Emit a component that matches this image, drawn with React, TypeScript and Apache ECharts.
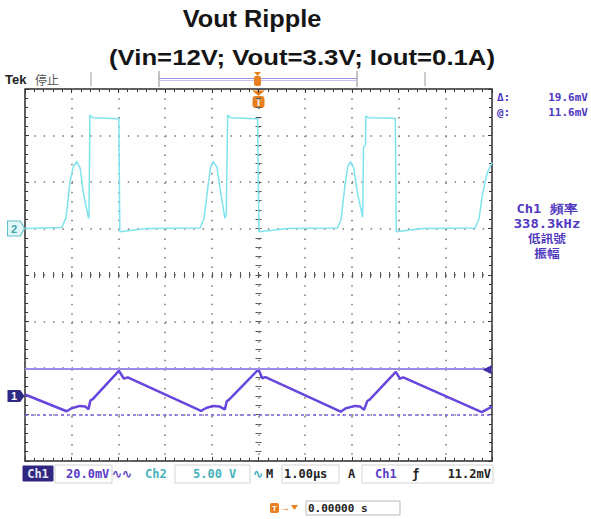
import React, { useEffect, useRef } from 'react';
import * as echarts from 'echarts';

// ---- data ----
// time axis: 1.00 µs/div, 10 divisions, trigger (t = 0) at the centre
const timeRangeUs = [-5, 5];
const verticalDivs = [-4, 4];

// Ch2 (switch node), 5.00 V/div, ground marker 1 div above centre
const ch2Range = [-25, 15];
const ch2TimeUs = [
  -5.0, -4.21, -4.12, -4.04, -3.97, -3.89, -3.82, -3.75, -3.64, -3.63, -3.61, -3.55, -2.99, -2.97, -2.7, -2.4,
  -1.25, -1.17, -1.08, -1.03, -0.97, -0.89, -0.81, -0.72, -0.69, -0.66, -0.6, -0.02, 0.01, 0.3, 0.6,
  1.69, 1.77, 1.85, 1.91, 1.97, 2.04, 2.12, 2.23, 2.25, 2.29, 2.3, 2.36, 2.93, 2.95, 3.2, 3.5,
  4.64, 4.72, 4.8, 4.9, 5.0,
];
const ch2Volts = [
  0.0, 0.1, 1.2, 4.9, 6.6, 7.2, 6.5, 3.8, 1.1, 1.3, 12.2, 11.9, 11.8, -0.35, -0.2, 0.0,
  0.05, 1.0, 4.6, 6.5, 7.2, 6.6, 3.9, 1.1, 1.5, 12.2, 11.9, 11.8, -0.35, -0.2, 0.0,
  0.05, 1.0, 4.6, 6.6, 7.2, 6.5, 3.8, 1.2, 8.8, 9.0, 12.1, 11.9, 11.85, -0.35, -0.2, 0.0,
  0.05, 1.0, 3.8, 6.0, 7.1,
];

// Ch1 (Vout ripple, AC), 20.0 mV/div, ground marker 2.6 div below centre
const ch1Range = [-28, 132];
const ch1TimeUs = [
  -5.0, -4.11, -4.0, -3.82, -3.71, -3.64, -3.6, -3.55, -2.99, -2.88, -2.8,
  -1.23, -1.12, -0.97, -0.83, -0.72, -0.68, -0.63, 0.0, 0.08, 0.15,
  1.76, 1.87, 2.07, 2.18, 2.26, 2.33, 2.38, 2.94, 3.03, 3.1,
  4.78, 5.0,
];
const ch1MilliVolts = [
  0.6, -6.6, -5.3, -4.3, -4.6, -5.7, -2.0, -1.4, 10.8, 7.4, 8.0,
  -6.4, -5.2, -4.3, -4.6, -5.8, -2.3, -1.6, 11.4, 7.6, 8.1,
  -6.8, -5.3, -4.3, -4.6, -6.0, -2.2, -1.6, 10.3, 7.4, 8.0,
  -7.0, -4.6,
];
const cursorUpperMv = 11.6;
const cursorDeltaMv = 19.6;
const triggerLevelMv = 11.2;

const titleText = 'Vout Ripple';
const subtitleText = '(Vin=12V; Vout=3.3V; Iout=0.1A)';
const freqLines = ['Ch1 頻率', '338.3kHz', '低訊號', '振幅'];

const CH1_COLOR = '#6646dd';
const CH2_COLOR = '#7fe3ee';
const MONO = '"DejaVu Sans Mono", monospace';
const SANS = '"Liberation Sans", Arial, sans-serif';
const CJK = '"Noto Sans CJK TC", "Noto Sans CJK SC", sans-serif';

const tickColor = '#333';
const dotLine = { color: '#777', width: 1.5, type: [1.5, 7.84] as number[] };

function borderAxis(position: string, withSplit: boolean, isX: boolean) {
  const range = isX ? timeRangeUs : verticalDivs;
  return {
    type: 'value',
    min: range[0],
    max: range[1],
    interval: 1,
    position,
    axisLine: { show: false, onZero: false },
    axisTick: { show: true, inside: true, length: 4, lineStyle: { color: tickColor, width: 1 } },
    minorTick: { show: true, splitNumber: 5, length: 3, lineStyle: { color: tickColor, width: 1 } },
    splitLine: { show: withSplit, lineStyle: dotLine },
    axisLabel: { show: false },
  };
}

function centreAxis(position: string, inside: boolean, isX: boolean) {
  const range = isX ? timeRangeUs : verticalDivs;
  return {
    type: 'value',
    min: range[0],
    max: range[1],
    interval: 1,
    position,
    axisLine: { show: true, onZero: true, onZeroAxisIndex: 0, lineStyle: { opacity: 0 } },
    axisTick: { show: true, inside, length: 3, lineStyle: { color: '#555', width: 1 } },
    minorTick: { show: true, splitNumber: 5, length: 3, lineStyle: { color: '#555', width: 1 } },
    splitLine: { show: false },
    axisLabel: { show: false },
  };
}

function tagPath() {
  return 'path://M0,0 L12,0 L16,7 L12,14 L0,14 Z';
}

function textEl(x: number, y: number, text: string, font: string, fill: string, align = 'left', extra: any = {}) {
  return {
    type: 'text',
    x,
    y,
    silent: true,
    ...extra,
    style: { text, font, fill, align, verticalAlign: 'middle', textAlign: align, textVerticalAlign: 'middle' },
  };
}

function boxEl(x: number, y: number, w: number, h: number, fill: string, stroke: string) {
  return { type: 'rect', silent: true, shape: { x, y, width: w, height: h }, style: { fill, stroke, lineWidth: 1 } };
}

export default function App() {
  const ref = useRef<HTMLDivElement>(null);

  useEffect(() => {
    if (!ref.current) return;
    const chart = echarts.init(ref.current, undefined, { renderer: 'svg' });

    const ch2Data = ch2TimeUs.map((t, i) => [t, ch2Volts[i]]);
    const ch1Data = ch1TimeUs.map((t, i) => [t, ch1MilliVolts[i]]);
    const cursorLowerMv = +(cursorUpperMv - cursorDeltaMv).toFixed(1);

    const bottomY = 474;
    const graphic: any[] = [
      // title
      textEl(252, 19, titleText, `bold 23px ${SANS}`, '#151515', 'center', { scaleX: 1.1 }),
      textEl(302, 57, subtitleText, `bold 23px ${SANS}`, '#151515', 'center', { scaleX: 1.12 }),
      // Tek header
      textEl(5, 79, 'Tek', `bold 13px ${SANS}`, '#222'),
      textEl(35, 79, '停止', `12px ${CJK}`, '#555'),
      { type: 'line', silent: true, shape: { x1: 91, y1: 72, x2: 91, y2: 86 }, style: { stroke: '#999', lineWidth: 1 } },
      { type: 'line', silent: true, shape: { x1: 425, y1: 72, x2: 425, y2: 86 }, style: { stroke: '#999', lineWidth: 1 } },
      { type: 'line', silent: true, shape: { x1: 159, y1: 71, x2: 159, y2: 87 }, style: { stroke: '#888', lineWidth: 1 } },
      { type: 'line', silent: true, shape: { x1: 357, y1: 71, x2: 357, y2: 87 }, style: { stroke: '#888', lineWidth: 1 } },
      { type: 'line', silent: true, shape: { x1: 159, y1: 78.5, x2: 357, y2: 78.5 }, style: { stroke: '#9d8fe6', lineWidth: 1 } },
      { type: 'line', silent: true, shape: { x1: 159, y1: 80.5, x2: 357, y2: 80.5 }, style: { stroke: '#c9c0f2', lineWidth: 1 } },
      { type: 'polygon', silent: true, shape: { points: [[254, 72], [261, 72], [257.5, 76]] }, style: { fill: '#e8801f' } },
      { type: 'rect', silent: true, shape: { x: 254, y: 76, width: 7, height: 10, r: 2 }, style: { fill: '#e8801f' } },
      // trigger position marker under top border
      { type: 'polygon', silent: true, shape: { points: [[252, 90.5], [265, 90.5], [258.5, 96]] }, style: { fill: '#e8801f' } },
      { type: 'rect', silent: true, shape: { x: 252.5, y: 96, width: 12, height: 12, r: 3 }, style: { fill: '#e8801f' } },
      textEl(258.5, 102.5, 'T', `bold 10px ${SANS}`, '#fff', 'center'),
      // cursor readout
      textEl(497, 97, 'Δ:', `bold 11px ${MONO}`, '#5038c0'),
      textEl(588, 97, `${cursorDeltaMv.toFixed(1)}mV`, `bold 11px ${MONO}`, '#5038c0', 'right'),
      textEl(497, 112, '@:', `bold 11px ${MONO}`, '#5038c0'),
      textEl(588, 112, `${cursorUpperMv.toFixed(1)}mV`, `bold 11px ${MONO}`, '#5038c0', 'right'),
      // frequency block
      ...freqLines.map((s, i) =>
        textEl(547, 209 + i * 14.6, s, i < 2 ? `bold 12px ${MONO}` : `bold 11px ${CJK}`, '#5038c0', 'center', { scaleX: 1.15 }),
      ),
      // bottom status bar
      boxEl(23, 466, 30, 15, '#2f2780', '#2f2780'),
      textEl(38, bottomY, 'Ch1', `bold 12px ${MONO}`, '#e8e6f5', 'center'),
      boxEl(55, 465, 57, 18, '#fff', '#d4d4d4'),
      textEl(66, bottomY, '20.0mV', `bold 12px ${MONO}`, '#5a3cc8'),
      textEl(112, bottomY, '∿∿', `bold 12px ${MONO}`, '#6a56c8'),
      textEl(145, bottomY, 'Ch2', `bold 12px ${MONO}`, '#45b3bb'),
      boxEl(175, 465, 75, 18, '#fff', '#d4d4d4'),
      textEl(193, bottomY, '5.00 V', `bold 12px ${MONO}`, '#45b3bb'),
      textEl(253, bottomY, '∿', `bold 12px ${MONO}`, '#45b3bb'),
      textEl(266, bottomY, 'M', `bold 12px ${MONO}`, '#222'),
      boxEl(282, 465, 57, 18, '#fff', '#d4d4d4'),
      textEl(284, bottomY, '1.00μs', `bold 12px ${MONO}`, '#222'),
      textEl(348, bottomY, 'A', `bold 12px ${MONO}`, '#222'),
      boxEl(362, 465, 131, 18, '#fff', '#d4d4d4'),
      textEl(375, bottomY, 'Ch1', `bold 12px ${MONO}`, '#5a3cc8'),
      textEl(412, bottomY, 'ƒ', `bold 12px ${MONO}`, '#222'),
      textEl(491, bottomY, `${triggerLevelMv.toFixed(1)}mV`, `bold 12px ${MONO}`, '#222', 'right'),
      // horizontal position readout
      { type: 'rect', silent: true, shape: { x: 270, y: 503, width: 9, height: 10, r: 2 }, style: { fill: '#e8801f' } },
      textEl(274.5, 508, 'T', `bold 8px ${SANS}`, '#fff', 'center'),
      textEl(281, 508, '→', `bold 9px ${SANS}`, '#e8801f'),
      { type: 'polygon', silent: true, shape: { points: [[291, 505], [298, 505], [294.5, 510]] }, style: { fill: '#e8801f' } },
      boxEl(306, 501, 94, 14, '#fff', '#bbb'),
      textEl(308, 508.5, '0.00000 s', `bold 11px ${MONO}`, '#222'),
    ];

    chart.setOption({
      animation: false,
      backgroundColor: '#ffffff',
      grid: {
        left: 25, top: 89, width: 467, height: 372,
        show: true, borderColor: '#2a2a2a', borderWidth: 1.5, backgroundColor: 'transparent',
      },
      xAxis: [
        borderAxis('bottom', true, true),
        borderAxis('top', false, true),
        centreAxis('bottom', false, true),
        centreAxis('bottom', true, true),
      ],
      yAxis: [
        borderAxis('left', true, false),
        borderAxis('right', false, false),
        centreAxis('left', false, false),
        centreAxis('left', true, false),
        { type: 'value', min: ch2Range[0], max: ch2Range[1], show: false, axisLine: { onZero: false }, splitLine: { show: false } },
        { type: 'value', min: ch1Range[0], max: ch1Range[1], show: false, axisLine: { onZero: false }, splitLine: { show: false } },
      ],
      series: [
        {
          name: 'Ch2',
          type: 'line',
          xAxisIndex: 0,
          yAxisIndex: 4,
          data: ch2Data,
          showSymbol: false,
          clip: true,
          lineStyle: { color: CH2_COLOR, width: 1.5 },
          markPoint: {
            silent: true,
            data: [{
              coord: [timeRangeUs[0], 0],
              symbol: tagPath(),
              symbolSize: [17, 15],
              symbolOffset: [-9, 0],
              itemStyle: { color: '#e3f7f8', borderColor: '#63c2c9', borderWidth: 1 },
              label: { show: true, position: 'inside', formatter: '2', color: '#3aa6ae', fontWeight: 'bold', fontSize: 11, offset: [-2, 0] },
            }],
          },
        },
        {
          name: 'Ch1',
          type: 'line',
          xAxisIndex: 0,
          yAxisIndex: 5,
          data: ch1Data,
          showSymbol: false,
          clip: true,
          lineStyle: { color: CH1_COLOR, width: 2.5 },
          markLine: {
            silent: true,
            symbol: ['none', 'none'],
            label: { show: false },
            data: [
              { yAxis: cursorUpperMv, lineStyle: { type: 'solid', color: '#9b8cec', width: 2 } },
              { yAxis: cursorLowerMv, lineStyle: { type: [3, 3], color: '#7a62e0', width: 1.5 } },
            ],
          },
          markPoint: {
            silent: true,
            data: [
              {
                coord: [timeRangeUs[0], 0],
                symbol: tagPath(),
                symbolSize: [17, 12],
                symbolOffset: [-9, 0],
                itemStyle: { color: '#2f2a86' },
                label: { show: true, position: 'inside', formatter: '1', color: '#fff', fontWeight: 'bold', fontSize: 11, offset: [-2, 0] },
              },
              {
                coord: [timeRangeUs[1], triggerLevelMv],
                symbol: 'triangle',
                symbolRotate: 90,
                symbolSize: [9, 9],
                symbolOffset: [-5, 0],
                itemStyle: { color: '#3f2fa8' },
                label: { show: false },
              },
            ],
          },
        },
      ],
      graphic,
    });

    return () => chart.dispose();
  }, []);

  return (
    <div
      ref={ref}
      style={{ position: 'fixed', left: 0, top: 0, width: 591, height: 519, background: '#fff' }}
    />
  );
}
